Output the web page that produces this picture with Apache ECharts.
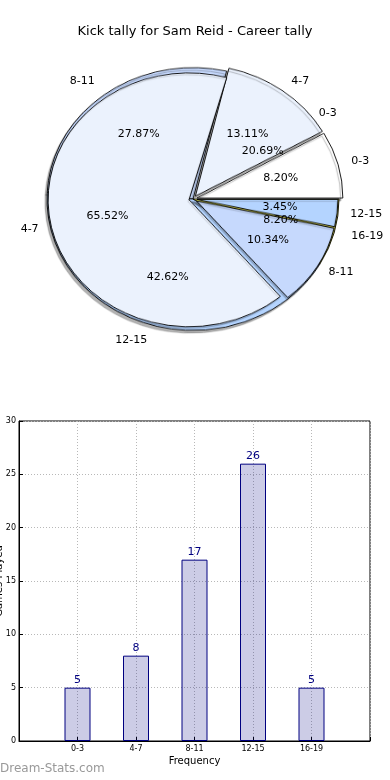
<!DOCTYPE html>
<html><head><meta charset="utf-8">
<script src="https://cdn.jsdelivr.net/npm/echarts@6/dist/echarts.min.js"></script>
<style>
html,body{margin:0;padding:0;background:#fff;}
#wedges{position:absolute;left:0;top:0;width:390px;height:400px;transform:scaleY(0.9);transform-origin:0 199px;}
#main{position:absolute;left:0;top:0;width:390px;height:780px;}
</style></head>
<body>
<div id="wedges"></div>
<div id="main"></div>
<script>
// ---- data ----
var categories = ['0-3', '4-7', '8-11', '12-15', '16-19'];
var kickCounts = [5, 8, 17, 26, 5];          // outer pie + bar chart
var otherCounts = [6, 19, 3, 1];             // second pie (0-3 .. 12-15)
var yTicks = [0, 5, 10, 15, 20, 25, 30];
var titleText = 'Kick tally for Sam Reid - Career tally';

// ---- styling ----
var sliceColors = ['#ffffff', '#ebf2fd', '#c6d9fd', '#b4d4ff', '#e6e650'];
var CX = 193, CY = 199, K = 0.9, RA = 146, RB = 141;
var FONT = 'DejaVu Sans';

function sum(a){return a.reduce(function(s,v){return s+v;},0);}

// ---- wedge chart (vertically squashed to an ellipse via CSS) ----
var wedges = echarts.init(document.getElementById('wedges'), null, {renderer:'canvas'});
var aData = kickCounts.map(function(v,i){
  return {name:categories[i], value:v, selected:(i<2),
    itemStyle:{color:sliceColors[i]}, select:{itemStyle:{color:sliceColors[i]}}};
});
var bData = otherCounts.map(function(v,i){
  var transparent = (i===0);
  return {name:categories[i], value:v, selected:!transparent,
    itemStyle: transparent ? {color:'rgba(0,0,0,0)', borderWidth:0, shadowColor:'rgba(0,0,0,0)'} : {color:sliceColors[i]},
    select: transparent ? {itemStyle:{color:'rgba(0,0,0,0)', borderWidth:0}} : {itemStyle:{color:sliceColors[i]}}
  };
});
wedges.setOption({
  animation:false,
  series:[
    {type:'pie', center:[CX,CY], radius:[0,RA], startAngle:0, clockwise:false,
     selectedMode:'multiple', selectedOffset:4, silent:true,
     label:{show:false}, labelLine:{show:false}, emphasis:{disabled:true},
     itemStyle:{borderColor:'#000', borderWidth:0.9, shadowColor:'rgba(0,0,0,0.3)', shadowOffsetX:-2, shadowOffsetY:3, shadowBlur:1},
     select:{itemStyle:{borderColor:'#000', borderWidth:0.9}},
     data:aData},
    {type:'pie', z:3, center:[CX,CY], radius:[0,RB], startAngle:0, clockwise:false,
     selectedMode:'multiple', selectedOffset:4, silent:true,
     label:{show:false}, labelLine:{show:false}, emphasis:{disabled:true},
     itemStyle:{borderColor:'#000', borderWidth:0.9, shadowColor:'rgba(0,0,0,0.2)', shadowOffsetX:-1, shadowOffsetY:2, shadowBlur:1},
     select:{itemStyle:{borderColor:'#000', borderWidth:0.9}},
     data:bData}
  ]
});

// ---- main chart: title, pie labels, bar chart ----
function ellLayout(mode){
  return function(p){
    var r = p.labelRect;
    var lx = r.x + r.width/2, ly = r.y + r.height/2;
    var ny = CY + (ly - CY)*K;
    if (mode==='name') return {x:lx, y:ny, align: lx>=CX ? 'left':'right', verticalAlign:'middle'};
    return {x:lx, y:ny, align:'center', verticalAlign:'middle'};
  };
}
function labelPie(values, r, mode){
  var tot = sum(values);
  var radius = mode==='name' ? [r, r*1.2] : [r*0.2, r];
  return {type:'pie', center:[CX,CY], radius:radius, startAngle:0, clockwise:false,
    silent:true, avoidLabelOverlap:false, z:5,
    itemStyle:{color:'rgba(0,0,0,0)', borderWidth:0},
    labelLine:{show:false}, emphasis:{disabled:true},
    label:{show:true, position:'inside', color:'#000', fontFamily:FONT, fontSize:11,
      formatter:function(p){ return mode==='name' ? p.name : (p.value/tot*100).toFixed(2)+'%'; }},
    labelLayout:ellLayout(mode),
    data:values.map(function(v,i){return {name:categories[i], value:v};})
  };
}

var padded = [''].concat(categories).concat(['']);
var barData = [null].concat(kickCounts).concat([null]);

var main = echarts.init(document.getElementById('main'), null, {renderer:'canvas'});
main.setOption({
  animation:false,
  title:{text:titleText, left:'center', top:20,
    textStyle:{fontFamily:FONT, fontSize:13, fontWeight:'normal', color:'#000'}},
  grid:{left:19, right:20, top:421, bottom:39, containLabel:false, outerBoundsMode:'none',
    show:true, borderColor:'#000', borderWidth:1, backgroundColor:'rgba(0,0,0,0)'},
  xAxis:{type:'category', data:padded, boundaryGap:false,
    name:'Frequency', nameLocation:'middle', nameGap:15, nameMoveOverlap:false,
    nameTextStyle:{fontFamily:FONT, fontSize:10, color:'#000'},
    axisLine:{lineStyle:{color:'#000', width:1}},
    axisTick:{inside:true, length:4, lineStyle:{color:'#000'}},
    axisLabel:{interval:0, fontFamily:FONT, fontSize:8, color:'#000', margin:4},
    splitLine:{show:true, lineStyle:{type:[1,2], color:'#b8b8b8'}}},
  yAxis:{type:'value', min:yTicks[0], max:yTicks[yTicks.length-1], interval:yTicks[1]-yTicks[0],
    name:'Games Played', nameLocation:'middle', nameGap:15, nameMoveOverlap:false,
    nameTextStyle:{fontFamily:FONT, fontSize:10, color:'#000'},
    axisLine:{show:true, lineStyle:{color:'#000', width:1}},
    axisTick:{show:true, inside:true, length:4, lineStyle:{color:'#000'}},
    axisLabel:{fontFamily:FONT, fontSize:8, color:'#000', margin:3},
    splitLine:{show:true, lineStyle:{type:[1,2], color:'#b8b8b8'}}},
  graphic:[{type:'text', left:0, top:763, silent:true,
    style:{text:'Dream-Stats.com', fontFamily:FONT, fontSize:12, fontWeight:'normal', fill:'#999999'}}],
  series:[
    labelPie(kickCounts, RA, 'name'),
    labelPie(kickCounts, RA, 'pct'),
    labelPie(otherCounts, RB, 'name'),
    labelPie(otherCounts, RB, 'pct'),
    {type:'bar', data:barData, barWidth:26, silent:true,
     itemStyle:{color:'rgba(0,0,128,0.2)', borderColor:'#000080', borderWidth:1},
     label:{show:true, position:'top', distance:2, color:'#000080', fontFamily:FONT, fontSize:11}}
  ]
});
</script>
</body></html>
